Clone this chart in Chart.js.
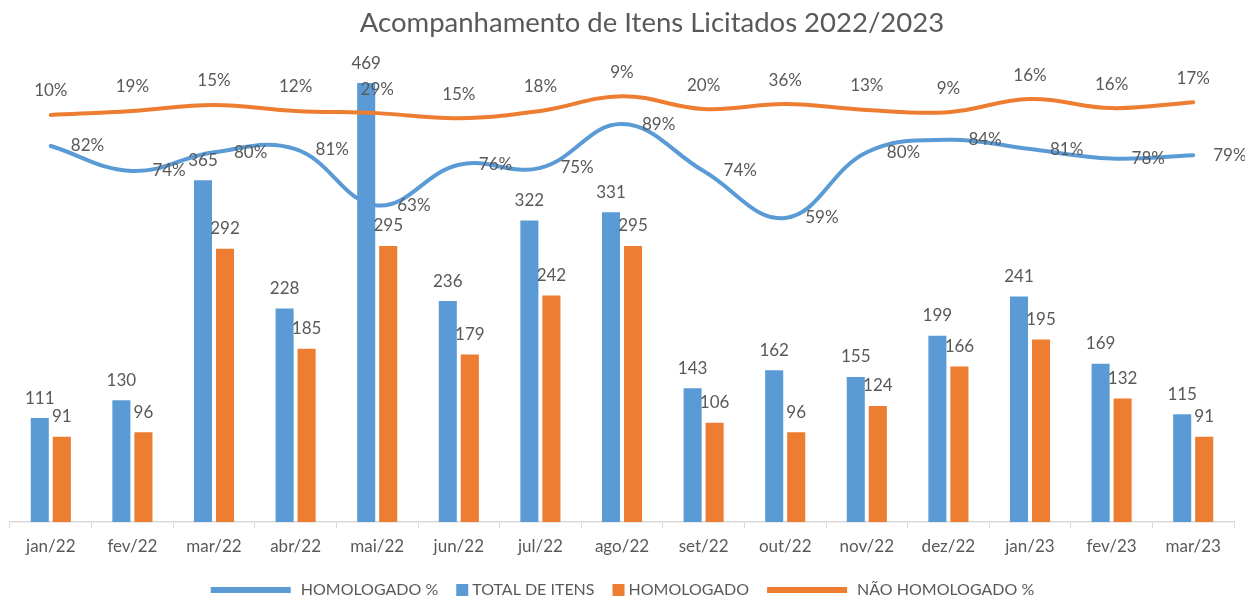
<!DOCTYPE html>
<html><head><meta charset="utf-8">
<script src="https://cdn.jsdelivr.net/npm/chart.js@4.4.1/dist/chart.umd.min.js"></script>
<style>html,body{margin:0;padding:0;background:#fff;overflow:hidden}</style>
</head><body>
<canvas id="c" width="1245" height="596"></canvas>
<script>
const categories = ['jan/22','fev/22','mar/22','abr/22','mai/22','jun/22','jul/22','ago/22','set/22','out/22','nov/22','dez/22','jan/23','fev/23','mar/23'];
const totalItens = [111,130,365,228,469,236,322,331,143,162,155,199,241,169,115];
const homologado = [91,96,292,185,295,179,242,295,106,96,124,166,195,132,91];
const homologadoPct = [82,74,80,81,63,76,75,89,74,59,80,84,81,78,79];
// label values shown on the orange line
const naoHomologadoPct = [10,19,15,12,29,15,18,9,20,36,13,9,16,16,17];
// plotted height of the orange line (same % axis as the blue line)
const naoHomologadoLinha = [91.9,93.2,95.1,93.2,92.5,90.9,93.2,97.9,93.8,95.4,93.5,92.8,97.0,94.1,96.0];

const BLUE = '#5B9BD5', ORANGE = '#ED7D31', TEXT = '#595959';
const FAMILY = 'Lato, "Open Sans", sans-serif';

const titleShift = {
  id: 'titleShift',
  afterLayout(chart) { if (chart.titleBlock) chart.titleBlock.left += 60; }
};

const dataLabels = {
  id: 'dataLabels',
  afterDatasetsDraw(chart) {
    const ctx = chart.ctx;
    ctx.save();
    ctx.font = '17px ' + FAMILY;
    ctx.fillStyle = TEXT;
    ctx.textBaseline = 'middle';
    chart.data.datasets.forEach((ds, di) => {
      const meta = chart.getDatasetMeta(di);
      meta.data.forEach((el, i) => {
        if (ds.type === 'bar') {
          ctx.textAlign = 'center';
          ctx.fillText(String(ds.data[i]), el.x, el.y - 20);
        } else if (ds.labelMode === 'right') {
          ctx.textAlign = 'left';
          ctx.fillText(ds.labelValues[i] + '%', el.x + 20, el.y);
        } else {
          ctx.textAlign = 'center';
          ctx.fillText(ds.labelValues[i] + '%', el.x, el.y - 24);
        }
      });
    });
    ctx.restore();
  }
};

const customLegend = {
  id: 'customLegend',
  afterDraw(chart) {
    const ctx = chart.ctx;
    ctx.save();
    ctx.font = '16px ' + FAMILY;
    ctx.textBaseline = 'middle';
    ctx.textAlign = 'left';
    const items = chart.data.datasets.map(ds => ({
      text: ds.label, color: ds.type === 'bar' ? ds.backgroundColor : ds.borderColor,
      line: ds.type !== 'bar'
    }));
    const symW = it => it.line ? 80 : 12;
    const gapST = it => it.line ? 10 : 4;
    const itemGap = 18;
    let total = 0;
    items.forEach((it, k) => { it.tw = ctx.measureText(it.text).width; total += symW(it) + gapST(it) + it.tw + (k ? itemGap : 0); });
    let x = chart.width / 2 - total / 2;
    const yc = 590;
    items.forEach((it, k) => {
      if (k) x += itemGap;
      ctx.fillStyle = it.color;
      if (it.line) ctx.fillRect(x, yc - 3, 80, 6);
      else ctx.fillRect(x, yc - 6, 12, 12);
      x += symW(it) + gapST(it);
      ctx.fillStyle = TEXT;
      ctx.fillText(it.text, x, yc);
      x += it.tw;
    });
    ctx.restore();
  }
};

new Chart(document.getElementById('c'), {
  data: {
    labels: categories,
    datasets: [
      { type: 'line', label: 'HOMOLOGADO %', data: homologadoPct, labelValues: homologadoPct, labelMode: 'right',
        yAxisID: 'y1', borderColor: BLUE, backgroundColor: BLUE, borderWidth: 4, pointRadius: 0, tension: 0.4, order: 0,
        borderCapStyle: 'round' },
      { type: 'bar', label: 'TOTAL DE ITENS', data: totalItens, yAxisID: 'y', backgroundColor: BLUE,
        categoryPercentage: 0.54, barPercentage: 0.82, order: 2 },
      { type: 'bar', label: 'HOMOLOGADO', data: homologado, yAxisID: 'y', backgroundColor: ORANGE,
        categoryPercentage: 0.54, barPercentage: 0.82, order: 2 },
      { type: 'line', label: 'NÃO HOMOLOGADO %', data: naoHomologadoLinha, labelValues: naoHomologadoPct, labelMode: 'above',
        yAxisID: 'y1', borderColor: ORANGE, backgroundColor: ORANGE, borderWidth: 4, pointRadius: 0, tension: 0.4, order: 0,
        borderCapStyle: 'round' }
    ]
  },
  options: {
    responsive: false,
    animation: false,
    devicePixelRatio: 1,
    layout: { padding: { left: 10, right: 11, top: 0, bottom: 31.6 } },
    plugins: {
      legend: { display: false },
      tooltip: { enabled: false },
      title: { display: true, text: 'Acompanhamento de Itens Licitados 2022/2023', color: TEXT,
        font: { family: FAMILY, size: 27.5, weight: 'normal' }, padding: { top: 7, bottom: 14 } }
    },
    scales: {
      x: {
        grid: { display: true, drawOnChartArea: false, drawTicks: true, tickLength: 6, color: '#d9d9d9', offset: true },
        border: { display: true, color: '#d9d9d9', width: 1.5 },
        ticks: { color: TEXT, font: { family: FAMILY, size: 17 }, padding: 8, maxRotation: 0, autoSkip: false }
      },
      y: { display: false, min: 0, max: 500 },
      y1: { display: false, min: -38.2, max: 111.4 }
    }
  },
  plugins: [titleShift, dataLabels, customLegend]
});
</script>
</body></html>
